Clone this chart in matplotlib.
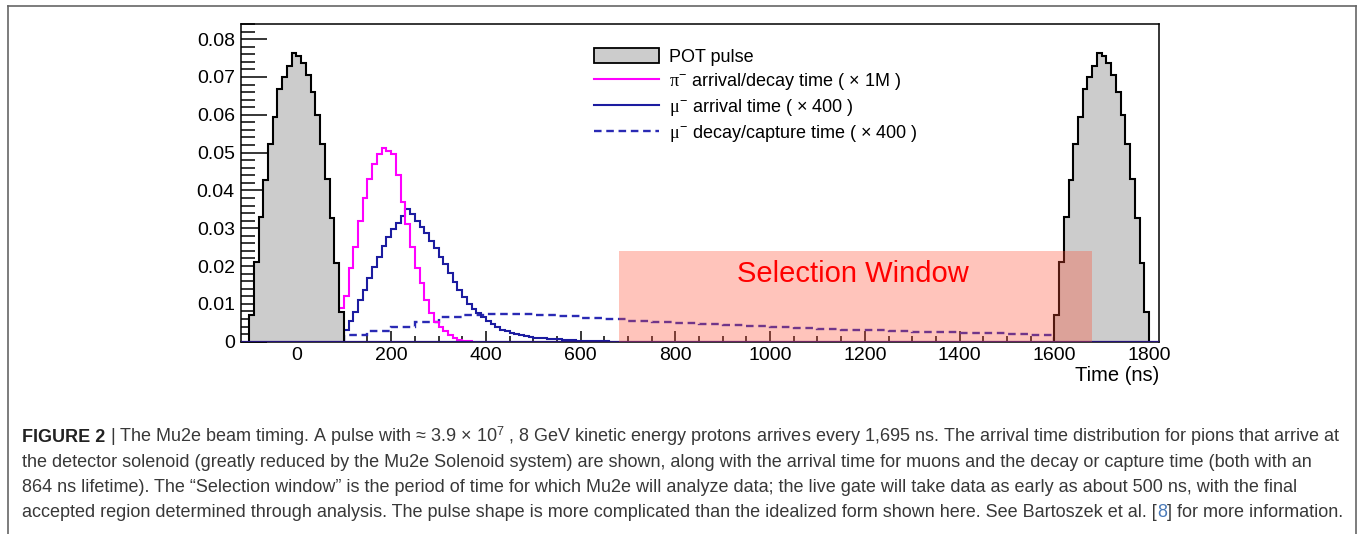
import numpy as np
import matplotlib.pyplot as plt
from matplotlib.patches import Rectangle
from matplotlib.lines import Line2D
from matplotlib.ticker import MultipleLocator, FuncFormatter

plt.rcParams['font.family'] = ['Liberation Sans', 'DejaVu Sans']
plt.rcParams['mathtext.fontset'] = 'custom'
plt.rcParams['mathtext.rm'] = 'Liberation Sans'
plt.rcParams['mathtext.it'] = 'Liberation Serif'

# POT pulse, 10 ns bins, the same pulse every ~1700 ns
pot_starts = [-100, 1600]
pot = [0.0071, 0.0211, 0.0330, 0.0427, 0.0524, 0.0593, 0.0667, 0.0700, 0.0729, 0.0764,
       0.0755, 0.0736, 0.0705, 0.0661, 0.0599, 0.0524, 0.0429, 0.0326, 0.0209, 0.0079]

# pi- arrival/decay time (x 1M), 10 ns bins from 90 ns
pion_start = 90
pion = [0.0088, 0.0120, 0.0195, 0.0250, 0.0320, 0.0380, 0.0430, 0.0470, 0.0495, 0.0513,
        0.0505, 0.0495, 0.0440, 0.0370, 0.0310, 0.0250, 0.0195, 0.0155, 0.0110, 0.0075,
        0.0053, 0.0040, 0.0027, 0.0018, 0.0010, 0.0005, 0.0002, 0.0001]

# mu- arrival time (x 400), 10 ns bins from 100 ns
mu_start = 100
mu_arrival = [0.0032, 0.0054, 0.0078, 0.0110, 0.0138, 0.0168, 0.0198, 0.0224, 0.0252, 0.0278,
              0.0297, 0.0315, 0.0332, 0.0350, 0.0338, 0.0318, 0.0302, 0.0288, 0.0266, 0.0248,
              0.0225, 0.0205, 0.0182, 0.0158, 0.0138, 0.0117, 0.0099, 0.0086, 0.0076, 0.0065,
              0.0056, 0.0047, 0.0039, 0.0032, 0.0027, 0.0023, 0.0020, 0.0017, 0.0015, 0.0013,
              0.0011, 0.0010, 0.0009, 0.0008, 0.0007, 0.0006, 0.0005, 0.0004, 0.0004, 0.0003,
              0.0003, 0.0002, 0.0002, 0.0001, 0.0001, 0.0001]

# mu- decay/capture time (x 400), 50 ns bins from 100 ns
mu_decay_start = 100
mu_decay = [0.0017, 0.0027, 0.0040, 0.0052, 0.0064, 0.0071, 0.0074, 0.0073, 0.0070, 0.0067,
            0.0063, 0.0059, 0.0056, 0.0053, 0.0050, 0.0047, 0.0044, 0.0041, 0.0039, 0.0036,
            0.0034, 0.0032, 0.0030, 0.0028, 0.0026, 0.0025, 0.0023, 0.0022, 0.0020, 0.0019]

# selection window: start, end (ns), height
window = (680, 1680, 0.024)

y_ticks = [0, 0.01, 0.02, 0.03, 0.04, 0.05, 0.06, 0.07, 0.08]


def edges(start, n, width):
    return start + width * np.arange(n + 1)


fig = plt.figure(figsize=(13.57, 5.34), dpi=100)
W, H = 1357, 534
ax = fig.add_axes([241 / W, 1 - 341.7 / H, (1159 - 241) / W, (341.7 - 24) / H])

blue = '#1c1ca0'
dash_blue = '#2a2ab4'
dashes = (0, (3.2, 2.0))
ax.stairs(mu_decay, edges(mu_decay_start, len(mu_decay), 50), color=dash_blue,
          lw=1.7, ls=dashes, zorder=2)
ax.stairs(mu_arrival, edges(mu_start, len(mu_arrival), 10), color=blue, lw=1.5, zorder=3)
ax.stairs(pion, edges(pion_start, len(pion), 10), color='#ff00ff', lw=1.5, zorder=3)
for s in pot_starts:
    e = edges(s, len(pot), 10)
    ax.stairs(pot, e, fill=True, color='#cccccc', zorder=4)
    ax.stairs(pot, e, color='black', lw=1.5, zorder=5)
ax.axhline(0, color='#24127a', lw=1.6, zorder=6)

ax.add_patch(Rectangle((window[0], 0), window[1] - window[0], window[2],
                       facecolor=(1.0, 0.3, 0.2), alpha=0.33, lw=0, zorder=7))
ax.text((window[0] + window[1]) / 2 - 5, 0.0178, 'Selection Window', color='red',
        fontsize=21, ha='center', va='center', zorder=8)

ax.set_xlim(-117, 1821)
ax.set_ylim(0, 0.084)
ax.xaxis.set_major_locator(MultipleLocator(200))
ax.xaxis.set_minor_locator(MultipleLocator(50))
ax.set_yticks(y_ticks)
ax.yaxis.set_minor_locator(MultipleLocator(0.002))
ax.yaxis.set_major_formatter(FuncFormatter(lambda v, p: '0' if v == 0 else f'{v:.2f}'))
ax.tick_params(axis='x', which='major', direction='in', length=8, width=1.1,
               labelsize=14, pad=4, top=False)
ax.tick_params(axis='x', which='minor', direction='in', length=4, width=1.1, top=False)
ax.tick_params(axis='y', which='major', direction='in', length=19, width=1.1,
               labelsize=14, pad=4.5, right=False)
ax.tick_params(axis='y', which='minor', direction='in', length=10, width=1.1, right=False)
for sp in ax.spines.values():
    sp.set_linewidth(1.1)
ax.set_xlabel('Time (ns)', loc='right', fontsize=14.5, labelpad=1)

handles = [Rectangle((0, 0), 1, 1, facecolor='#cccccc', edgecolor='black', lw=1.3),
           Line2D([], [], color='#ff00ff', lw=1.5),
           Line2D([], [], color=blue, lw=1.5),
           Line2D([], [], color=dash_blue, lw=1.7, ls=dashes)]
labels = ['POT pulse',
          r'$\pi^{-}$ arrival/decay time ( × 1M )',
          r'$\mu^{-}$ arrival time ( × 400 )',
          r'$\mu^{-}$ decay/capture time ( × 400 )']
fig.legend(handles, labels, loc='upper left', bbox_to_anchor=(594 / W, 1 - 48 / H),
           frameon=False, fontsize=13, handlelength=3.6, handleheight=0.9,
           handletextpad=0.55, labelspacing=0.28, borderpad=0, borderaxespad=0)

# caption
cap_color = '#383838'
cap_size = 13
x0 = 22 / W
base = [442, 467, 492, 517]
fig.canvas.draw()
r = fig.canvas.get_renderer()


def put(x, ypix, s, **kw):
    t = fig.text(x, 1 - ypix / H, s, va='baseline', ha='left', fontsize=cap_size,
                 color=kw.pop('color', cap_color), **kw)
    return t.get_window_extent(r).x1 / W


x = put(x0, base[0], 'FIGURE 2', weight='bold', color='#222222')
put(x, base[0], ' | The Mu2e beam timing. A pulse with \u2248 3.9 \u00d7 10$^{7}$ , 8 GeV kinetic '
    'energy protons arrives every 1,695 ns. The arrival time distribution for pions that arrive at')
put(x0, base[1], 'the detector solenoid (greatly reduced by the Mu2e Solenoid system) are shown, '
    'along with the arrival time for muons and the decay or capture time (both with an')
put(x0, base[2], '864 ns lifetime). The \u201cSelection window\u201d is the period of time for which '
    'Mu2e will analyze data; the live gate will take data as early as about 500 ns, with the final')
x = put(x0, base[3], 'accepted region determined through analysis. The pulse shape is more complicated '
        'than the idealized form shown here. See Bartoszek et al. [')
x = put(x, base[3], '8', color='#4a7ab8')
put(x, base[3], '] for more information.')

# outer frame
for xs, ys in [([7.5, 7.5], [6, 540]), ([7.5, 1355.5], [6, 6]), ([1355.5, 1355.5], [6, 540])]:
    fig.add_artist(Line2D([v / W for v in xs], [1 - v / H for v in ys], color='#666666', lw=1.2))

fig.savefig('out.png', dpi=100)
